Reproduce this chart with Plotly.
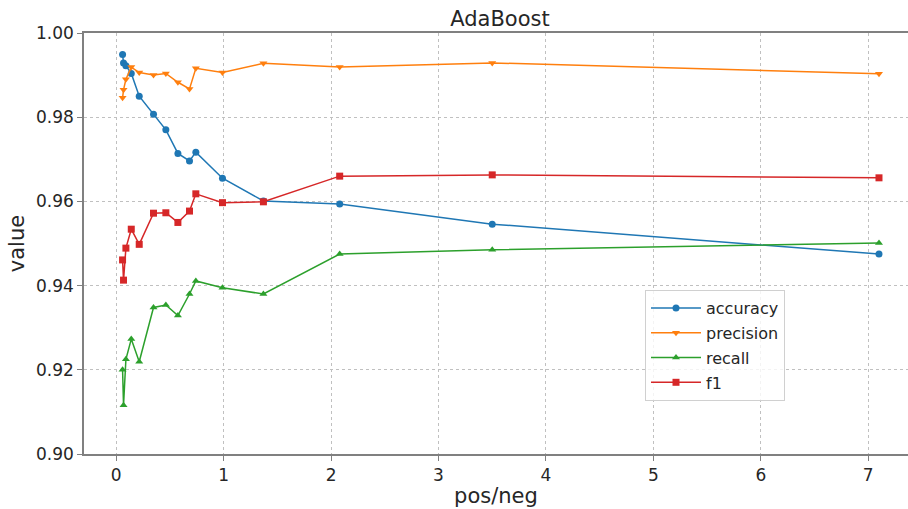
import plotly.graph_objects as go

pos_neg = [0.059, 0.068, 0.09, 0.14, 0.214, 0.347, 0.462, 0.574, 0.682, 0.741, 0.989, 1.37, 2.08, 3.5, 7.1]
accuracy = [0.9949, 0.9929, 0.9922, 0.9904, 0.9850, 0.9807, 0.9770, 0.9714, 0.9696, 0.9717, 0.9655, 0.9601, 0.9594, 0.9546, 0.9475]
precision = [0.9846, 0.9865, 0.9890, 0.9919, 0.9906, 0.9900, 0.9904, 0.9883, 0.9867, 0.9916, 0.9906, 0.9928, 0.9919, 0.9929, 0.9903]
recall = [0.9200, 0.9116, 0.9225, 0.9273, 0.9219, 0.9348, 0.9354, 0.9329, 0.9380, 0.9411, 0.9395, 0.9380, 0.9475, 0.9485, 0.9501]
f1 = [0.9461, 0.9413, 0.9489, 0.9534, 0.9498, 0.9572, 0.9573, 0.9550, 0.9577, 0.9618, 0.9597, 0.9599, 0.9660, 0.9663, 0.9656]

series = [
    ("accuracy", accuracy, "#1f77b4", "circle"),
    ("precision", precision, "#ff7f0e", "triangle-down"),
    ("recall", recall, "#2ca02c", "triangle-up"),
    ("f1", f1, "#d62728", "square"),
]

fig = go.Figure()
for name, vals, color, sym in series:
    fig.add_trace(go.Scatter(
        x=pos_neg, y=vals, mode="lines+markers", name=name,
        legendgroup=name,
        line=dict(color=color, width=1.5),
        marker=dict(symbol=sym, size=7, color=color),
    ))

font = "DejaVu Sans, Arial, sans-serif"
W, H = 908, 509
L, T, B = 84, 33, 55
fig.update_layout(
    width=W, height=H,
    margin=dict(l=L, r=0, t=T, b=B),
    paper_bgcolor="white", plot_bgcolor="white",
    font=dict(family=font, color="#262626"),
    title=dict(text="AdaBoost", x=500/W, xanchor="center", y=1-19/H, yanchor="middle",
               font=dict(size=21, family=font, color="#262626")),
    showlegend=True,
    legend=dict(x=(645-L)/(W-L), y=(454-290)/421, xanchor="left", yanchor="top",
                bgcolor="rgba(255,255,255,0.8)", bordercolor="#d0d0d0", borderwidth=1,
                font=dict(size=16, family=font), tracegroupgap=1, traceorder="grouped",
                itemwidth=50),
    xaxis=dict(range=[-0.30, 7.37], tickmode="array", tickvals=list(range(8)),
               ticktext=[str(i) for i in range(8)],
               showgrid=True, gridcolor="#c0c0c0", griddash="dot", gridwidth=1,
               showline=True, linecolor="#808080", linewidth=1.5, mirror=True,
               ticks="outside", ticklen=5, tickcolor="#808080",
               tickfont=dict(size=17, family=font), zeroline=False,
               title=dict(text="pos/neg", font=dict(size=21, family=font), standoff=4)),
    yaxis=dict(range=[0.90, 1.00], tickmode="array",
               tickvals=[0.90, 0.92, 0.94, 0.96, 0.98, 1.00],
               ticktext=["0.90", "0.92", "0.94", "0.96", "0.98", "1.00"],
               showgrid=True, gridcolor="#c0c0c0", griddash="dot", gridwidth=1,
               showline=True, linecolor="#808080", linewidth=1.5, mirror=False,
               ticks="outside", ticklen=5, tickcolor="#808080",
               tickfont=dict(size=17, family=font), zeroline=False,
               title=dict(text="value", font=dict(size=21, family=font), standoff=6)),
)

fig.write_html("out.html", config={"displayModeBar": False},
               post_script="document.body.style.margin='0';document.body.style.overflow='hidden';")
